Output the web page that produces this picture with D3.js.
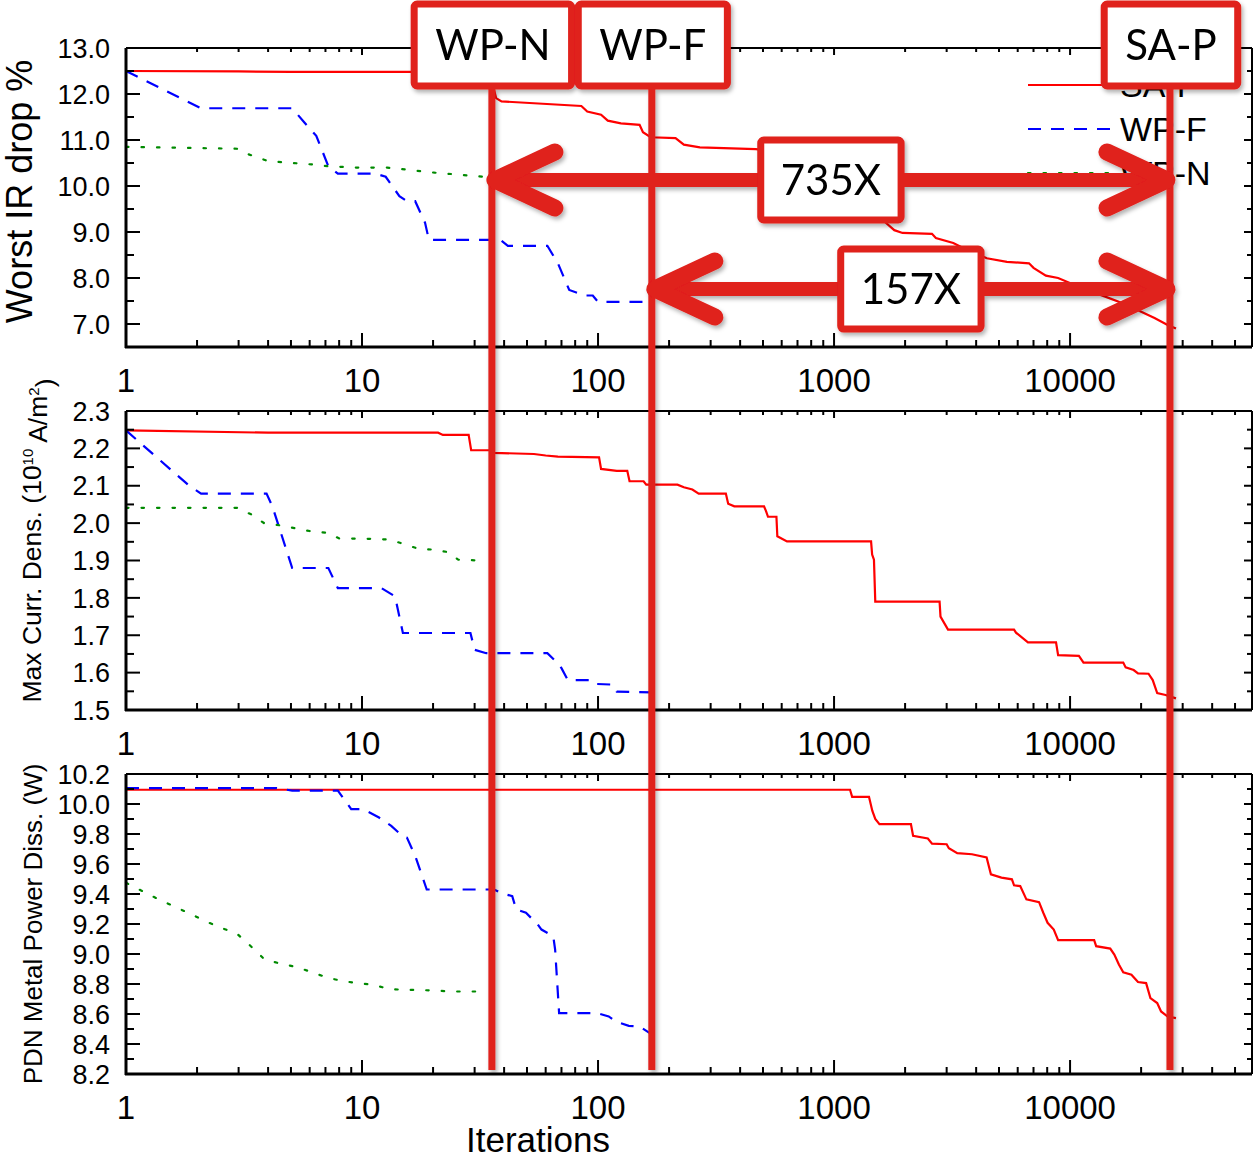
<!DOCTYPE html>
<html>
<head>
<meta charset="utf-8">
<script src="https://cdn.jsdelivr.net/npm/d3@7"></script>
<style>
  body { margin: 0; background: #fff; }
  svg { display: block; }
  .tick-label { font-family: "Liberation Sans", Arial, sans-serif; fill: #000; }
  .anno { font-family: Lato, "Open Sans", sans-serif; fill: #000; }
</style>
</head>
<body>
<div id="vis"></div>
<script>
// ---- data: [iterations, value] ----
const irSAP = [[1,12.50],[3,12.49],[5,12.48],[20,12.48],[35,12.47],[36,12.15],[37,11.91],[39,11.84],[85,11.74],[90,11.62],[103,11.55],[110,11.42],[125,11.36],[150,11.33],[155,11.17],[167,11.06],[213,11.04],[231,10.9],[270,10.84],[465,10.8],[600,10.75],[800,10.62],[1000,10.4],[1250,9.9],[1450,9.5],[1657,9.2],[1800,9.04],[1950,8.98],[2600,8.96],[2700,8.87],[3200,8.76],[3700,8.6],[4440,8.43],[5400,8.35],[6700,8.32],[7000,8.22],[7900,8.05],[8900,8.0],[11000,7.8],[14000,7.6],[16500,7.46],[19400,7.3],[22800,7.13],[25900,6.98],[28100,6.9]];
const irWPF = [[1,12.5],[2.08,11.69],[5.06,11.69],[5.7,11.38],[6.4,11.09],[7.2,10.43],[7.9,10.27],[11.4,10.27],[12.6,10.2],[14.4,9.78],[15.5,9.67],[16.8,9.67],[18.5,9.2],[19.2,8.83],[38.5,8.83],[41.5,8.7],[61,8.7],[67.6,8.32],[75.5,7.74],[88,7.62],[95,7.62],[100,7.48],[169,7.48]];
const irWPN = [[1,10.85],[2.95,10.81],[3.3,10.69],[4.0,10.54],[6.1,10.47],[7.2,10.43],[9.4,10.4],[12.8,10.4],[20.3,10.29],[33,10.2]];

const jSAP = [[1,2.248],[4,2.242],[21,2.242],[22,2.236],[28.3,2.236],[29,2.195],[35,2.195],[36,2.188],[53.5,2.185],[60,2.181],[67.6,2.178],[101,2.176],[103,2.145],[120,2.140],[133,2.140],[136,2.112],[156,2.112],[160,2.103],[217,2.103],[231,2.096],[251,2.090],[267,2.079],[348,2.079],[356,2.052],[378,2.045],[505,2.045],[515,2.032],[525,2.017],[570,2.017],[575,1.965],[632,1.951],[1435,1.951],[1450,1.916],[1476,1.902],[1495,1.79],[2800,1.79],[2825,1.75],[3040,1.715],[5790,1.715],[5900,1.707],[6630,1.681],[8720,1.681],[8900,1.647],[10900,1.645],[11400,1.627],[16800,1.627],[17200,1.614],[18600,1.607],[19400,1.598],[21500,1.597],[22400,1.58],[23400,1.545],[25400,1.54],[28100,1.531]];
const jWPF = [[1,2.248],[1.86,2.099],[2.08,2.079],[3.94,2.079],[4.17,2.045],[5.06,1.88],[7.2,1.88],[7.9,1.826],[12.1,1.826],[13.8,1.804],[14.9,1.706],[28.8,1.706],[30,1.661],[33.6,1.652],[61,1.652],[67.6,1.625],[70,1.612],[74.5,1.58],[91.5,1.58],[95,1.57],[115,1.568],[120,1.549],[169,1.547]];
const jWPN = [[1,2.041],[2.95,2.041],[3.4,2.023],[3.87,1.999],[4.5,1.994],[6.1,1.978],[7.2,1.974],[8.0,1.959],[11,1.958],[13,1.956],[14.9,1.945],[17.4,1.931],[20.3,1.929],[23.3,1.922],[25.6,1.902],[32,1.9]];

const pSAP = [[1,10.095],[1169,10.095],[1193,10.048],[1406,10.048],[1452,9.955],[1495,9.9],[1557,9.866],[2117,9.866],[2162,9.788],[2497,9.77],[2601,9.736],[3000,9.732],[3065,9.705],[3327,9.672],[3840,9.665],[4430,9.643],[4620,9.531],[5120,9.509],[5670,9.498],[5790,9.458],[6150,9.453],[6530,9.364],[7390,9.346],[7700,9.275],[8030,9.208],[8530,9.163],[8900,9.092],[12650,9.092],[12900,9.052],[14800,9.036],[15400,8.996],[16100,8.93],[16800,8.878],[18200,8.862],[19400,8.813],[21000,8.806],[21900,8.706],[23400,8.673],[24300,8.617],[25900,8.583],[28100,8.572]];
const pWPF = [[1,10.106],[4.34,10.106],[5.06,10.089],[7.9,10.089],[9.0,9.966],[10.1,9.966],[11.8,9.91],[13.3,9.854],[14.9,9.783],[15.5,9.776],[16.8,9.654],[18.8,9.43],[36.3,9.43],[39.2,9.404],[43.3,9.386],[45,9.297],[49.5,9.275],[55.5,9.197],[57.6,9.163],[64.6,9.119],[65.8,9.03],[68.4,8.606],[99,8.606],[111,8.584],[119,8.55],[135,8.521],[150,8.517],[170,8.461]];
const pWPN = [[1,9.475],[1.17,9.42],[1.36,9.368],[1.86,9.27],[2.17,9.219],[2.53,9.174],[2.95,9.136],[3.38,9.052],[3.87,8.963],[4.51,8.936],[5.27,8.913],[6.15,8.878],[7.2,8.84],[8.4,8.818],[9.6,8.806],[11.2,8.795],[13,8.766],[14.9,8.762],[20.3,8.757],[23.7,8.75],[32.3,8.75]];

const seriesNames = ["SA-P", "WP-F", "WP-N"];
const xTickLabels = ["1", "10", "100", "1000", "10000"];

// annotation values (iterations where each method finishes)
const markerNames = ["WP-N", "WP-F", "SA-P"];
const markerIters = [35.5, 169, 26500];
const speedupLabels = ["735X", "157X"];
const speedupFrom = [35.5, 169];
const speedupAt = [10.13, 7.76];   // IR-drop level of each arrow

const W = 1259, H = 1159;
const left = 126, right = 1252;
const x = d3.scaleLog().domain([1, 59000]).range([left, right]);

const svg = d3.select("#vis").append("svg").attr("width", W).attr("height", H);

const styles = {
  "SA-P": { color: "#ff0000", dash: null },
  "WP-F": { color: "#0000ff", dash: "13,10" },
  "WP-N": { color: "#008a00", dash: "2.5,13" }
};

const panels = [
  { top: 48, h: 299, domain: [6.5, 13.0], major: 1.0, minor: 0.5, fmt: d3.format(".1f"),
    title: "Worst IR drop %", titleSize: 36, titleX: 32, titleShift: -6, data: [irSAP, irWPF, irWPN] },
  { top: 411, h: 299, domain: [1.5, 2.3], major: 0.1, minor: 0.05, fmt: d3.format(".1f"),
    title: "Max Curr. Dens. (10", titleSize: 26.5, titleX: 41, titleShift: -20, data: [jSAP, jWPF, jWPN] },
  { top: 774, h: 300, domain: [8.2, 10.2], major: 0.2, minor: 0.1, fmt: d3.format(".1f"),
    title: "PDN Metal Power Diss. (W)", titleSize: 26, titleX: 42, titleShift: 0, data: [pSAP, pWPF, pWPN] }
];

const majorX = [1, 10, 100, 1000, 10000];
const minorX = [];
majorX.forEach(m => { for (let k = 2; k <= 9; k++) if (m * k < 59000) minorX.push(m * k); });

panels.forEach((p, pi) => {
  const y = d3.scaleLinear().domain(p.domain).range([p.top + p.h, p.top]);
  p.y = y;
  const g = svg.append("g");
  const bottom = p.top + p.h;

  // data lines
  const line = d3.line().x(d => x(d[0])).y(d => y(d[1]));
  p.data.forEach((d, i) => {
    const s = styles[seriesNames[i]];
    g.append("path")
      .datum(d)
      .attr("d", line)
      .attr("fill", "none")
      .attr("stroke", s.color)
      .attr("stroke-width", 2.2)
      .attr("stroke-dasharray", s.dash)
      .attr("stroke-linecap", i === 2 ? "round" : "butt");
  });

  // frame
  g.append("line").attr("x1", left).attr("x2", right).attr("y1", p.top).attr("y2", p.top).attr("stroke", "#000").attr("stroke-width", 2);
  g.append("line").attr("x1", right).attr("x2", right).attr("y1", p.top).attr("y2", bottom).attr("stroke", "#000").attr("stroke-width", 2);
  g.append("line").attr("x1", left - 1).attr("x2", right).attr("y1", bottom).attr("y2", bottom).attr("stroke", "#000").attr("stroke-width", 3);
  g.append("line").attr("x1", left).attr("x2", left).attr("y1", p.top).attr("y2", bottom + 1).attr("stroke", "#000").attr("stroke-width", 3);

  // x ticks (inside, bottom and top)
  const tk = g.append("g").attr("stroke", "#000").attr("stroke-width", 2);
  majorX.concat(minorX).forEach(v => {
    const isMajor = majorX.includes(v);
    const xp = x(v);
    tk.append("line").attr("x1", xp).attr("x2", xp).attr("y1", bottom).attr("y2", bottom - (isMajor ? 14 : 7));
    tk.append("line").attr("x1", xp).attr("x2", xp).attr("y1", p.top).attr("y2", p.top + (isMajor ? 7 : 4));
  });
  majorX.forEach((v, i) => {
    g.append("text").attr("class", "tick-label")
      .attr("x", x(v)).attr("y", bottom + 45)
      .attr("text-anchor", "middle").style("font-size", "33px")
      .text(xTickLabels[i]);
  });

  // y ticks (inside, left and right)
  const nMinor = Math.round((p.domain[1] - p.domain[0]) / p.minor);
  for (let k = 0; k <= nMinor; k++) {
    const v = p.domain[0] + k * p.minor;
    const isMajor = Math.abs(v / p.major - Math.round(v / p.major)) < 1e-6;
    const yp = y(v);
    tk.append("line").attr("x1", left).attr("x2", left + (isMajor ? 14 : 8)).attr("y1", yp).attr("y2", yp);
    tk.append("line").attr("x1", right).attr("x2", right - (isMajor ? 8 : 5)).attr("y1", yp).attr("y2", yp);
    if (isMajor && !(pi === 0 && Math.abs(v - 6.5) < 1e-6)) {
      g.append("text").attr("class", "tick-label")
        .attr("x", 110).attr("y", yp).attr("dy", "0.36em")
        .attr("text-anchor", "end").style("font-size", "27px")
        .text(p.fmt(v));
    }
  }

  // y title
  const t = g.append("text").attr("class", "tick-label")
    .attr("transform", `translate(${p.titleX},${p.top + p.h / 2 + p.titleShift}) rotate(-90)`)
    .attr("text-anchor", "middle").style("font-size", p.titleSize + "px");
  if (pi === 1) {
    t.append("tspan").text(p.title);
    t.append("tspan").attr("dy", "-0.55em").style("font-size", "15px").text("10");
    t.append("tspan").attr("dy", "0.55em").text(" A/m");
    t.append("tspan").attr("dy", "-0.55em").style("font-size", "15px").text("2");
    t.append("tspan").attr("dy", "0.55em").text(")");
  } else {
    t.text(p.title);
  }
});

// legend in top panel
const leg = svg.append("g");
seriesNames.forEach((n, i) => {
  const yy = 97 + i * 44;
  const s = styles[n];
  leg.append("line").attr("x1", 1028).attr("x2", 1112).attr("y1", yy - 12).attr("y2", yy - 12)
    .attr("stroke", s.color).attr("stroke-width", 2.2).attr("stroke-dasharray", s.dash)
    .attr("stroke-linecap", i === 2 ? "round" : "butt");
  leg.append("text").attr("class", "tick-label").attr("x", 1120).attr("y", yy)
    .style("font-size", "34px").text(n);
});

svg.append("text").attr("class", "tick-label")
  .attr("x", 538).attr("y", 1152).attr("text-anchor", "middle")
  .style("font-size", "35px").text("Iterations");

// ---- annotations ----
const red = "#e0201b";
const defs = svg.append("defs");
const f = defs.append("filter").attr("id", "shadow").attr("x", "-20%").attr("y", "-20%").attr("width", "140%").attr("height", "140%");
f.append("feDropShadow").attr("dx", 2).attr("dy", 3).attr("stdDeviation", 2)
  .attr("flood-color", "#000").attr("flood-opacity", 0.3);

const anno = svg.append("g").attr("filter", "url(#shadow)");
const yIR = panels[0].y;
const lineTop = 86, lineBottom = 1070;

markerIters.forEach(v => {
  anno.append("line").attr("x1", x(v)).attr("x2", x(v)).attr("y1", lineTop).attr("y2", lineBottom)
    .attr("stroke", red).attr("stroke-width", 7);
});

function labelBox(cx, cy, txt, h, pad) {
  const gb = anno.append("g");
  const rect = gb.append("rect");
  const tx = gb.append("text").attr("class", "anno")
    .attr("x", cx).attr("y", cy).attr("dy", "0.35em")
    .attr("text-anchor", "middle").style("font-size", "42px").text(txt);
  const w = tx.node().getComputedTextLength() + pad;
  rect.attr("x", cx - w / 2).attr("y", cy - h / 2).attr("width", w).attr("height", h)
    .attr("rx", 3).attr("fill", "#fff").attr("stroke", red).attr("stroke-width", 7);
}

speedupLabels.forEach((lab, i) => {
  const x0 = x(speedupFrom[i]) + 3, x1 = x(markerIters[2]) - 3;
  const yy = yIR(speedupAt[i]);
  anno.append("line").attr("x1", x0 + 10).attr("x2", x1 - 10).attr("y1", yy).attr("y2", yy)
    .attr("stroke", red).attr("stroke-width", 14);
  const head = (tip, dir) => `M${tip - dir * 60},${yy - 28}L${tip},${yy}L${tip - dir * 60},${yy + 28}`;
  [[x0, -1], [x1, 1]].forEach(([tip, dir]) => {
    anno.append("path").attr("d", head(tip, dir)).attr("fill", "none")
      .attr("stroke", red).attr("stroke-width", 17)
      .attr("stroke-linecap", "round").attr("stroke-linejoin", "round");
  });
  const cx = x(Math.sqrt(speedupFrom[i] * markerIters[2]));
  labelBox(cx, yy, lab, 80, 40);
});

markerNames.forEach((n, i) => labelBox(x(markerIters[i]) + 1, 45, n, 82, 42));
</script>
</body>
</html>
